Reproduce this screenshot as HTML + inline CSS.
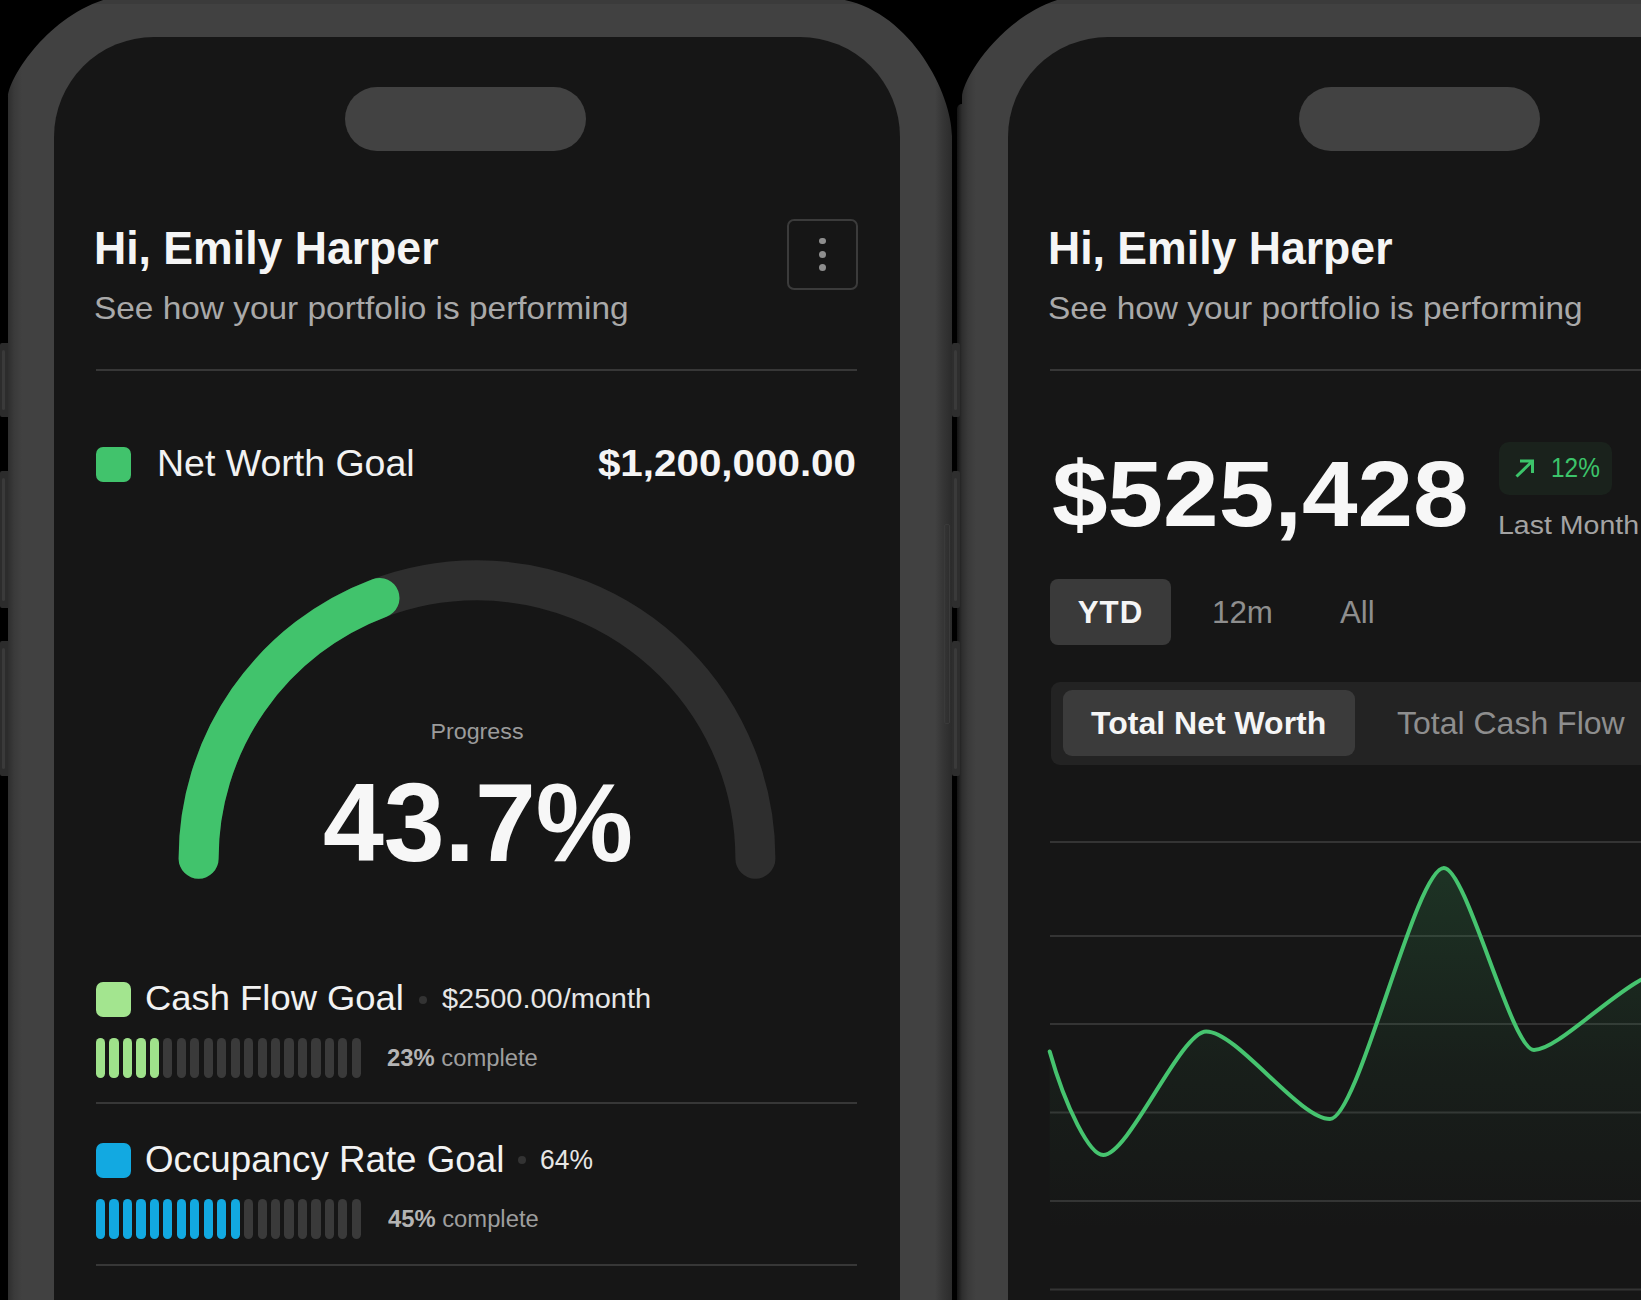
<!DOCTYPE html>
<html><head><meta charset="utf-8"><style>
html,body{margin:0;padding:0;}
body{width:1641px;height:1300px;overflow:hidden;background:#000;position:relative;font-family:"Liberation Sans",sans-serif;}
.t{position:absolute;white-space:nowrap;line-height:1;}
.r{position:absolute;}
</style></head><body>
<div class="r" style="left:0px;top:343px;width:10px;height:74px;background:#2c2c2c;border-radius:2px;"></div>
<div class="r" style="left:2px;top:350px;width:3px;height:60px;background:#3a3a3a;border-radius:1.5px;"></div>
<div class="r" style="left:0px;top:471px;width:10px;height:137px;background:#2c2c2c;border-radius:2px;"></div>
<div class="r" style="left:2px;top:478px;width:3px;height:123px;background:#3a3a3a;border-radius:1.5px;"></div>
<div class="r" style="left:0px;top:641px;width:10px;height:135px;background:#2c2c2c;border-radius:2px;"></div>
<div class="r" style="left:2px;top:648px;width:3px;height:121px;background:#3a3a3a;border-radius:1.5px;"></div>
<svg class="r" style="left:0px;top:0" width="960" height="1300" viewBox="0 0 960 1300">
<defs><linearGradient id="fg0" x1="0" x2="1" y1="0" y2="0">
<stop offset="0" stop-color="#2e2e2e"/><stop offset="0.0064" stop-color="#3a3a3a"/><stop offset="0.0148" stop-color="#414141"/>
<stop offset="0.982" stop-color="#414141"/><stop offset="0.99" stop-color="#363636"/><stop offset="1" stop-color="#2b2b2b"/></linearGradient></defs>
<path d="M8,1300 L8,97 C8,77 60,-6 140,-6 L825,-2 C903,-2 952,90 952,136 L952,1300 Z" fill="url(#fg0)"/>
<rect x="0" y="0" width="960" height="4" fill="#000" opacity="0.08"/>
</svg>
<div class="r" style="left:53.5px;top:37px;width:846.5px;height:1400px;background:#161616;border-radius:100px;"></div>
<div class="r" style="left:345px;top:87px;width:241px;height:64px;background:#424242;border-radius:32px;"></div>
<div class="t" id="h1" style="left:93.7px;top:224.6px;font-size:46.5px;color:#f5f5f5;font-weight:700;transform:scaleX(0.959);transform-origin:0 0;">Hi, Emily Harper</div>
<div class="t" id="sub1" style="left:93.9px;top:293.4px;font-size:31.4px;color:#a9a9a9;font-weight:400;transform:scaleX(1.064);transform-origin:0 0;">See how your portfolio is performing</div>
<div class="r" style="left:787px;top:218.5px;width:71px;height:71px;background:transparent;border-radius:7px;box-sizing:border-box;border:2px solid #3b3b3b;"></div>
<div class="r" style="left:819.2px;top:237.7px;width:6.6px;height:6.6px;background:#8e8e8e;border-radius:4px;"></div>
<div class="r" style="left:819.2px;top:251.0px;width:6.6px;height:6.6px;background:#8e8e8e;border-radius:4px;"></div>
<div class="r" style="left:819.2px;top:264.2px;width:6.6px;height:6.6px;background:#8e8e8e;border-radius:4px;"></div>
<div class="r" style="left:96px;top:368.5px;width:761px;height:2px;background:#373737;border-radius:0px;"></div>
<div class="r" style="left:96px;top:447px;width:35px;height:35px;background:#41c36c;border-radius:7px;"></div>
<div class="t" id="nwg" style="left:156.9px;top:446.4px;font-size:36.5px;color:#f2f2f2;font-weight:400;transform:scaleX(1.027);transform-origin:0 0;">Net Worth Goal</div>
<div class="t" id="nwv" style="left:856.2px;top:446.3px;font-size:36.3px;color:#f5f5f5;font-weight:700;transform:translateX(-100%) scaleX(1.112);transform-origin:100% 0;">$1,200,000.00</div>
<svg class="r" style="left:0;top:0" width="960" height="1300">
<path d="M198.60000000000002,858.7 A278.4,278.4 0 0 1 755.4,858.7" fill="none" stroke="#2e2e2e" stroke-width="40" stroke-linecap="round"/>
<path d="M198.60000000000002,858.7 A278.4,278.4 0 0 1 379.50,597.93" fill="none" stroke="#41c36c" stroke-width="40" stroke-linecap="round"/>
</svg>
<div class="t" id="prog" style="left:477.0px;top:721.1px;font-size:22.3px;color:#9b9b9b;font-weight:400;transform:translateX(-50%) scaleX(1.043);transform-origin:50% 0;">Progress</div>
<div class="t" id="pct" style="left:478.0px;top:766.6px;font-size:111.5px;color:#f7f7f7;font-weight:700;transform:translateX(-50%) scaleX(0.981);transform-origin:50% 0;">43.7%</div>
<div class="r" style="left:96px;top:982px;width:35px;height:35px;background:#a3e58f;border-radius:7px;"></div>
<div class="t" id="cfg" style="left:145.2px;top:981.3px;font-size:35.9px;color:#f2f2f2;font-weight:400;transform:scaleX(1.014);transform-origin:0 0;">Cash Flow Goal</div>
<div class="r" style="left:418.6px;top:995.5px;width:8px;height:8px;background:#333333;border-radius:4px;"></div>
<div class="t" id="cfv" style="left:442.0px;top:984.9px;font-size:28px;color:#e6e6e6;font-weight:400;transform:scaleX(1.033);transform-origin:0 0;">$2500.00/month</div>
<div class="r" style="left:96.0px;top:1038px;width:9.2px;height:40px;background:#9fe28b;border-radius:4.6px;"></div>
<div class="r" style="left:109.46px;top:1038px;width:9.2px;height:40px;background:#9fe28b;border-radius:4.6px;"></div>
<div class="r" style="left:122.92px;top:1038px;width:9.2px;height:40px;background:#9fe28b;border-radius:4.6px;"></div>
<div class="r" style="left:136.38px;top:1038px;width:9.2px;height:40px;background:#9fe28b;border-radius:4.6px;"></div>
<div class="r" style="left:149.84px;top:1038px;width:9.2px;height:40px;background:#9fe28b;border-radius:4.6px;"></div>
<div class="r" style="left:163.3px;top:1038px;width:9.2px;height:40px;background:#3a3a3a;border-radius:4.6px;"></div>
<div class="r" style="left:176.76px;top:1038px;width:9.2px;height:40px;background:#3a3a3a;border-radius:4.6px;"></div>
<div class="r" style="left:190.22px;top:1038px;width:9.2px;height:40px;background:#3a3a3a;border-radius:4.6px;"></div>
<div class="r" style="left:203.68px;top:1038px;width:9.2px;height:40px;background:#3a3a3a;border-radius:4.6px;"></div>
<div class="r" style="left:217.14px;top:1038px;width:9.2px;height:40px;background:#3a3a3a;border-radius:4.6px;"></div>
<div class="r" style="left:230.6px;top:1038px;width:9.2px;height:40px;background:#3a3a3a;border-radius:4.6px;"></div>
<div class="r" style="left:244.06px;top:1038px;width:9.2px;height:40px;background:#3a3a3a;border-radius:4.6px;"></div>
<div class="r" style="left:257.52px;top:1038px;width:9.2px;height:40px;background:#3a3a3a;border-radius:4.6px;"></div>
<div class="r" style="left:270.98px;top:1038px;width:9.2px;height:40px;background:#3a3a3a;border-radius:4.6px;"></div>
<div class="r" style="left:284.44px;top:1038px;width:9.2px;height:40px;background:#3a3a3a;border-radius:4.6px;"></div>
<div class="r" style="left:297.9px;top:1038px;width:9.2px;height:40px;background:#3a3a3a;border-radius:4.6px;"></div>
<div class="r" style="left:311.36px;top:1038px;width:9.2px;height:40px;background:#3a3a3a;border-radius:4.6px;"></div>
<div class="r" style="left:324.82px;top:1038px;width:9.2px;height:40px;background:#3a3a3a;border-radius:4.6px;"></div>
<div class="r" style="left:338.28px;top:1038px;width:9.2px;height:40px;background:#3a3a3a;border-radius:4.6px;"></div>
<div class="r" style="left:351.74px;top:1038px;width:9.2px;height:40px;background:#3a3a3a;border-radius:4.6px;"></div>
<div class="t" id="c23" style="left:387.0px;top:1046.5px;font-size:23px;color:#9e9e9e;font-weight:400;transform:scaleX(1.035);transform-origin:0 0;"><b style="color:#b4b4b4">23%</b> complete</div>
<div class="r" style="left:96px;top:1101.5px;width:761px;height:2px;background:#373737;border-radius:0px;"></div>
<div class="r" style="left:96px;top:1143px;width:35px;height:35px;background:#12a9e1;border-radius:7px;"></div>
<div class="t" id="org" style="left:144.8px;top:1142.3px;font-size:36.3px;color:#f2f2f2;font-weight:400;transform:scaleX(1.012);transform-origin:0 0;">Occupancy Rate Goal</div>
<div class="r" style="left:518.4px;top:1156px;width:8px;height:8px;background:#333333;border-radius:4px;"></div>
<div class="t" id="orv" style="left:539.8px;top:1146.3px;font-size:28px;color:#e6e6e6;font-weight:400;transform:scaleX(0.944);transform-origin:0 0;">64%</div>
<div class="r" style="left:96.0px;top:1199px;width:9.2px;height:40px;background:#12a9e1;border-radius:4.6px;"></div>
<div class="r" style="left:109.46px;top:1199px;width:9.2px;height:40px;background:#12a9e1;border-radius:4.6px;"></div>
<div class="r" style="left:122.92px;top:1199px;width:9.2px;height:40px;background:#12a9e1;border-radius:4.6px;"></div>
<div class="r" style="left:136.38px;top:1199px;width:9.2px;height:40px;background:#12a9e1;border-radius:4.6px;"></div>
<div class="r" style="left:149.84px;top:1199px;width:9.2px;height:40px;background:#12a9e1;border-radius:4.6px;"></div>
<div class="r" style="left:163.3px;top:1199px;width:9.2px;height:40px;background:#12a9e1;border-radius:4.6px;"></div>
<div class="r" style="left:176.76px;top:1199px;width:9.2px;height:40px;background:#12a9e1;border-radius:4.6px;"></div>
<div class="r" style="left:190.22px;top:1199px;width:9.2px;height:40px;background:#12a9e1;border-radius:4.6px;"></div>
<div class="r" style="left:203.68px;top:1199px;width:9.2px;height:40px;background:#12a9e1;border-radius:4.6px;"></div>
<div class="r" style="left:217.14px;top:1199px;width:9.2px;height:40px;background:#12a9e1;border-radius:4.6px;"></div>
<div class="r" style="left:230.6px;top:1199px;width:9.2px;height:40px;background:#12a9e1;border-radius:4.6px;"></div>
<div class="r" style="left:244.06px;top:1199px;width:9.2px;height:40px;background:#3a3a3a;border-radius:4.6px;"></div>
<div class="r" style="left:257.52px;top:1199px;width:9.2px;height:40px;background:#3a3a3a;border-radius:4.6px;"></div>
<div class="r" style="left:270.98px;top:1199px;width:9.2px;height:40px;background:#3a3a3a;border-radius:4.6px;"></div>
<div class="r" style="left:284.44px;top:1199px;width:9.2px;height:40px;background:#3a3a3a;border-radius:4.6px;"></div>
<div class="r" style="left:297.9px;top:1199px;width:9.2px;height:40px;background:#3a3a3a;border-radius:4.6px;"></div>
<div class="r" style="left:311.36px;top:1199px;width:9.2px;height:40px;background:#3a3a3a;border-radius:4.6px;"></div>
<div class="r" style="left:324.82px;top:1199px;width:9.2px;height:40px;background:#3a3a3a;border-radius:4.6px;"></div>
<div class="r" style="left:338.28px;top:1199px;width:9.2px;height:40px;background:#3a3a3a;border-radius:4.6px;"></div>
<div class="r" style="left:351.74px;top:1199px;width:9.2px;height:40px;background:#3a3a3a;border-radius:4.6px;"></div>
<div class="t" id="c45" style="left:388.0px;top:1208.0px;font-size:23px;color:#9e9e9e;font-weight:400;transform:scaleX(1.034);transform-origin:0 0;"><b style="color:#b4b4b4">45%</b> complete</div>
<div class="r" style="left:96px;top:1263.5px;width:761px;height:2px;background:#373737;border-radius:0px;"></div>
<div class="r" style="left:954px;top:343px;width:10px;height:74px;background:#2c2c2c;border-radius:2px;"></div>
<div class="r" style="left:956px;top:350px;width:3px;height:60px;background:#3a3a3a;border-radius:1.5px;"></div>
<div class="r" style="left:954px;top:471px;width:10px;height:137px;background:#2c2c2c;border-radius:2px;"></div>
<div class="r" style="left:956px;top:478px;width:3px;height:123px;background:#3a3a3a;border-radius:1.5px;"></div>
<div class="r" style="left:954px;top:641px;width:10px;height:135px;background:#2c2c2c;border-radius:2px;"></div>
<div class="r" style="left:956px;top:648px;width:3px;height:121px;background:#3a3a3a;border-radius:1.5px;"></div>
<svg class="r" style="left:954px;top:0" width="960" height="1300" viewBox="0 0 960 1300">
<defs><linearGradient id="fg954" x1="0" x2="1" y1="0" y2="0">
<stop offset="0" stop-color="#2e2e2e"/><stop offset="0.0064" stop-color="#3a3a3a"/><stop offset="0.0148" stop-color="#414141"/>
<stop offset="0.982" stop-color="#414141"/><stop offset="0.99" stop-color="#363636"/><stop offset="1" stop-color="#2b2b2b"/></linearGradient></defs>
<path d="M8,1300 L8,97 C8,77 60,-6 140,-6 L825,-2 C903,-2 952,90 952,136 L952,1300 Z" fill="url(#fg954)"/>
<rect x="0" y="0" width="960" height="4" fill="#000" opacity="0.08"/>
</svg>
<div class="r" style="left:1007.5px;top:37px;width:846.5px;height:1400px;background:#161616;border-radius:100px;"></div>
<div class="r" style="left:1299px;top:87px;width:241px;height:64px;background:#424242;border-radius:32px;"></div>
<div class="r" style="left:957px;top:104px;width:5px;height:1196px;background:linear-gradient(90deg,#141414,#2e2e2e);border-radius:0px;border-top-left-radius:5px;"></div>
<div class="r" style="left:952px;top:343px;width:8px;height:74px;background:#2e2e2e;border-radius:2px;"></div>
<div class="r" style="left:954px;top:350px;width:3px;height:60px;background:#3a3a3a;border-radius:1.5px;"></div>
<div class="r" style="left:952px;top:471px;width:8px;height:137px;background:#2e2e2e;border-radius:2px;"></div>
<div class="r" style="left:954px;top:478px;width:3px;height:123px;background:#3a3a3a;border-radius:1.5px;"></div>
<div class="r" style="left:952px;top:641px;width:8px;height:135px;background:#2e2e2e;border-radius:2px;"></div>
<div class="r" style="left:954px;top:648px;width:3px;height:121px;background:#3a3a3a;border-radius:1.5px;"></div>
<div class="r" style="left:944px;top:524px;width:6px;height:200px;background:transparent;border-radius:2px;box-sizing:border-box;border:1px solid #3a3a3a;"></div>
<div class="t" id="h2" style="left:1047.7px;top:224.6px;font-size:46.5px;color:#f5f5f5;font-weight:700;transform:scaleX(0.959);transform-origin:0 0;">Hi, Emily Harper</div>
<div class="t" id="sub2" style="left:1047.9px;top:293.4px;font-size:31.4px;color:#a9a9a9;font-weight:400;transform:scaleX(1.064);transform-origin:0 0;">See how your portfolio is performing</div>
<div class="r" style="left:1050px;top:368.5px;width:761px;height:2px;background:#373737;border-radius:0px;"></div>
<div class="t" id="big" style="left:1052.0px;top:448.1px;font-size:92.5px;color:#f7f7f7;font-weight:700;transform:scaleX(1.08);transform-origin:0 0;">$525,428</div>
<div class="r" style="left:1498.5px;top:442px;width:113px;height:53px;background:#1a221c;border-radius:10px;"></div>
<svg class="r" style="left:1510px;top:452px" width="32" height="32" viewBox="0 0 32 32">
<path d="M6.5,24.5 L22.5,9 M10,9 L22.5,9 L22.5,21" fill="none" stroke="#3cc46a" stroke-width="3"/></svg>
<div class="t" id="b12" style="left:1551.0px;top:454.3px;font-size:27.5px;color:#3cc46a;font-weight:400;transform:scaleX(0.888);transform-origin:0 0;">12%</div>
<div class="t" id="lm" style="left:1498.0px;top:512.4px;font-size:26.5px;color:#a3a3a3;font-weight:400;transform:scaleX(1.076);transform-origin:0 0;">Last Month</div>
<div class="r" style="left:1050px;top:579px;width:121px;height:66px;background:#3a3a3a;border-radius:8px;"></div>
<div class="t" id="ytd" style="left:1110.5px;top:596.9px;font-size:31.3px;color:#f5f5f5;font-weight:700;letter-spacing:1px;transform:translateX(-50%);transform-origin:50% 0;">YTD</div>
<div class="t" id="m12" style="left:1212.0px;top:596.9px;font-size:31.3px;color:#8e8e8e;font-weight:400;">12m</div>
<div class="t" id="all" style="left:1340.0px;top:596.9px;font-size:31.3px;color:#8e8e8e;font-weight:400;">All</div>
<div class="r" style="left:1050.5px;top:681.5px;width:700px;height:83px;background:#232323;border-radius:9px;"></div>
<div class="r" style="left:1063px;top:689.5px;width:291.5px;height:66.5px;background:#3b3b3b;border-radius:9px;"></div>
<div class="t" id="tnw" style="left:1208.7px;top:706.9px;font-size:32px;color:#f5f5f5;font-weight:700;transform:translateX(-50%);transform-origin:50% 0;">Total Net Worth</div>
<div class="t" id="tcf" style="left:1397.0px;top:706.9px;font-size:32px;color:#8e8e8e;font-weight:400;">Total Cash Flow</div>
<svg class="r" style="left:0;top:0" width="1641" height="1300">
<defs><linearGradient id="cg" x1="0" x2="0" y1="860" y2="1230" gradientUnits="userSpaceOnUse">
<stop offset="0" stop-color="#2f7a48" stop-opacity="0.30"/><stop offset="0.55" stop-color="#2f7a48" stop-opacity="0.09"/><stop offset="1" stop-color="#2f7a48" stop-opacity="0"/></linearGradient></defs>
<rect x="1050" y="841" width="700" height="2" fill="#343434"/><rect x="1050" y="935" width="700" height="2" fill="#343434"/><rect x="1050" y="1023" width="700" height="2" fill="#343434"/><rect x="1050" y="1111.5" width="700" height="2" fill="#343434"/><rect x="1050" y="1200" width="700" height="2" fill="#343434"/><rect x="1050" y="1288.5" width="700" height="2" fill="#343434"/>
<path d="M1049.7,1051.5 C1065.8,1108.4 1089.8,1155 1103.2,1155 C1129.0,1155 1180.5,1031.5 1206.2,1031.5 C1237.2,1031.5 1299.0,1119 1330,1119 C1358.5,1119 1415.4,868 1443.9,868 C1466.4,868 1511.5,1050 1534,1050 C1562.2,1050 1632.7,968 1675,968 L1690,1300 L1049.7,1300 Z" fill="url(#cg)"/>
<path d="M1049.7,1051.5 C1065.8,1108.4 1089.8,1155 1103.2,1155 C1129.0,1155 1180.5,1031.5 1206.2,1031.5 C1237.2,1031.5 1299.0,1119 1330,1119 C1358.5,1119 1415.4,868 1443.9,868 C1466.4,868 1511.5,1050 1534,1050 C1562.2,1050 1632.7,968 1675,968" fill="none" stroke="#46c46f" stroke-width="4" stroke-linecap="round"/>
</svg>
</body></html>
